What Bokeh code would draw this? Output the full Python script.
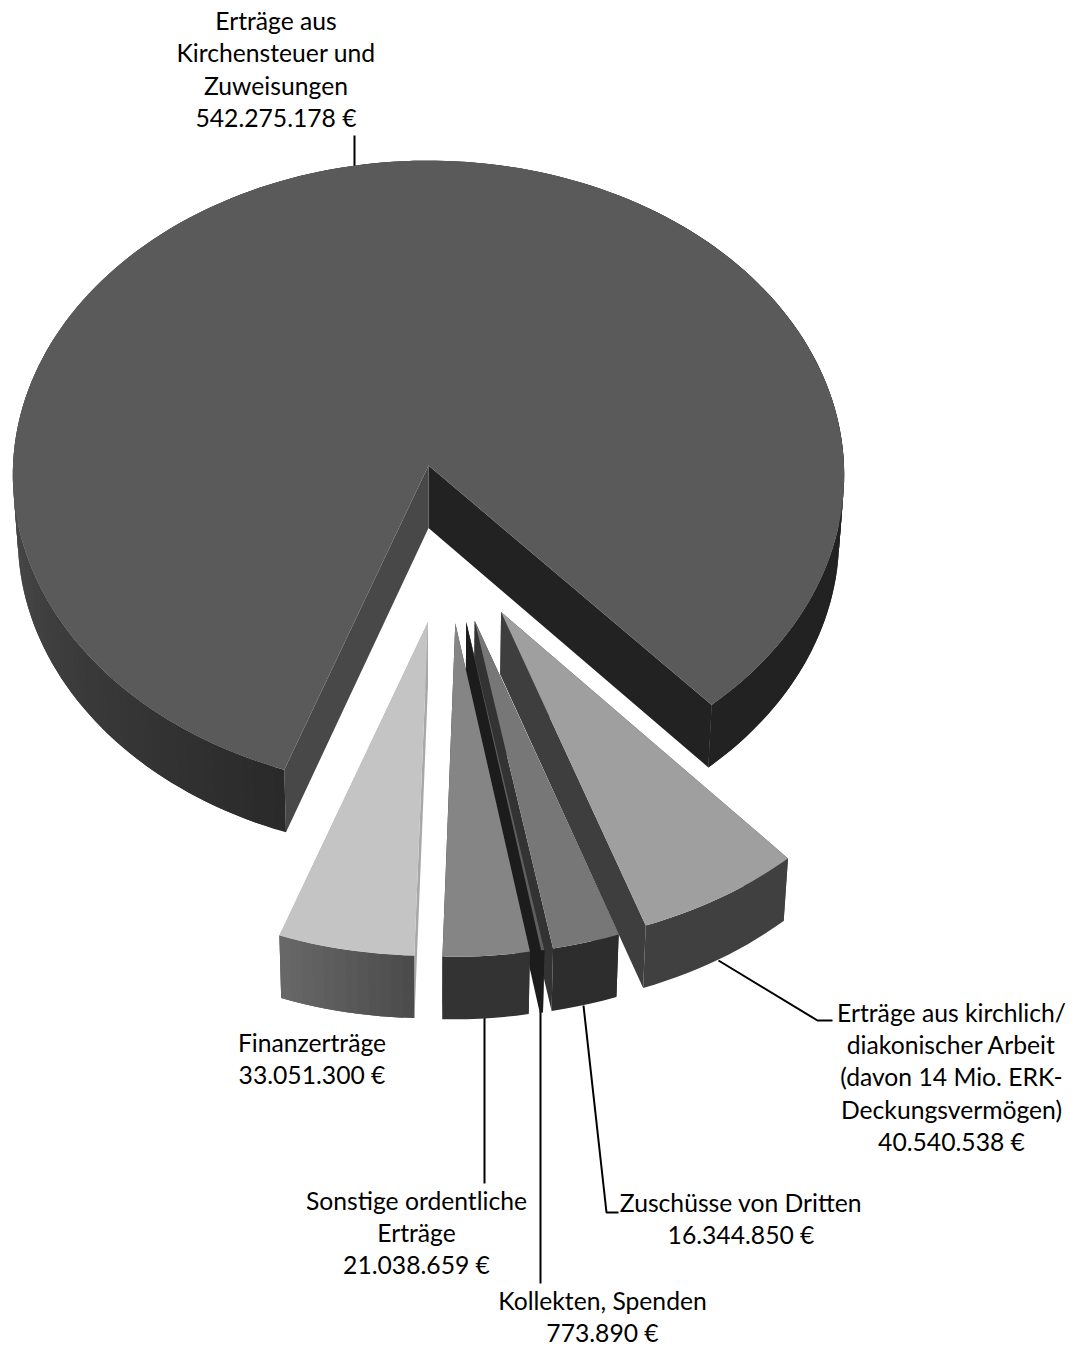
import numpy as np
from bokeh.embed import file_html
from bokeh.models import ColumnDataSource, Range1d
from bokeh.plotting import figure
from bokeh.resources import INLINE
from bokeh.core.properties import value

# Income positions, clockwise from the right-hand edge of the gap
categories = [
    ["Erträge aus kirchlich/", "diakonischer Arbeit", "(davon 14 Mio. ERK-", "Deckungsvermögen)"],
    ["Zuschüsse von Dritten"],
    ["Kollekten, Spenden"],
    ["Sonstige ordentliche", "Erträge"],
    ["Finanzerträge"],
    ["Erträge aus", "Kirchensteuer und", "Zuweisungen"],
]
amounts = [40540538, 16344850, 773890, 21038659, 33051300, 542275178]

# Grey tones per slice: top, wall at both ends, faces at the start and end cut
top_colors = ["#9f9f9f", "#777777", "#5e5e5e", "#858585", "#c4c4c4", "#5a5a5a"]
wall_start = ["#404040", "#2d2d2d", "#1c1c1c", "#333333", "#4c4c4c", "#222222"]
wall_end = ["#404040", "#2d2d2d", "#1c1c1c", "#333333", "#676767", "#222222"]
cut_start = ["#3e3e3e", "#333333", "#1c1c1c", "#333333", "#a8a8a8", "#484848"]
cut_end = ["#3e3e3e", "#333333", "#1c1c1c", "#333333", "#a8a8a8", "#222222"]

# Projection of the tilted disc onto the page
START_DEG = 48.2
EXPLODE = 0.25
CX, CY = 428.0, 465.0
RX, RY = 415.5, 314.0
PERSPECTIVE = 0.03
DEPTH = 62.5
TAPER = 0.012
SMALL_SLICE_SHIFT = -0.008
APEX_SHIFT = 0.005
PAGE_W, PAGE_H = 1077, 1348


def hex_rgb(h):
    return np.array([int(h[i:i + 2], 16) for i in (1, 3, 5)], dtype=float)


def mix(a, b, t):
    c = hex_rgb(a) * (1 - t) + hex_rgb(b) * t
    return "#%02x%02x%02x" % tuple(int(round(v)) for v in c)


def project(px, py, bottom=False):
    s = 1.0 / (1.0 - PERSPECTIVE * py)
    x = RX * px * s
    y = CY + RY * py * s
    if bottom:
        return CX + x * (1 - TAPER), y + DEPTH
    return CX + x, y


total = sum(amounts)
sweeps = [a / total * 360.0 for a in amounts]
starts = START_DEG + np.concatenate([[0], np.cumsum(sweeps)[:-1]])

# The largest slice sits at the projection origin, so the true pie centre is offset from it
big_mid = np.radians(starts[-1] + sweeps[-1] / 2)
true_cx = -EXPLODE * np.cos(big_mid)
true_cy = -EXPLODE * np.sin(big_mid)

xs, ys, fills = [], [], []


def add_poly(x, y, color):
    xs.append(list(x))
    ys.append(list(y))
    fills.append(color)


def main_wall_color(deg):
    # Wall of the big slice: dark on the right, brightening towards the far left
    deg = deg % 360
    if deg < 48.2 or deg > 300:
        return wall_start[5]
    return mix("#2a2a2a", "#4b4b4b", np.clip((deg - 110) / 70.0, 0, 1))


def add_slice(i):
    mid = np.radians(starts[i] + sweeps[i] / 2)
    is_big = i == 5
    ax = true_cx + EXPLODE * np.cos(mid) + (0.0 if is_big else SMALL_SLICE_SHIFT)
    ay = true_cy + EXPLODE * np.sin(mid)
    n = max(int(sweeps[i] / 1.5), 2)
    th = np.radians(np.linspace(starts[i], starts[i] + sweeps[i], n + 1))
    ox = ax + np.cos(th)
    oy = ay + np.sin(th)
    tx, ty = project(ox, oy)
    bx, by = project(ox, oy, bottom=True)
    tip = ax + (0.0 if is_big else APEX_SHIFT)
    atx, aty = project(tip, ay)
    abx, aby = project(tip, ay, bottom=True)

    # Cut faces first, so the wall and top cover whatever they should
    add_poly([atx, tx[-1], bx[-1], abx], [aty, ty[-1], by[-1], aby], cut_end[i])
    add_poly([atx, tx[0], bx[0], abx], [aty, ty[0], by[0], aby], cut_start[i])

    # Outer wall: one piece where it is flat, overlapping strips where it is shaded
    if not is_big and wall_start[i] == wall_end[i]:
        add_poly(np.r_[tx, bx[::-1]], np.r_[ty, by[::-1]], wall_start[i])
    else:
        for j in range(n):
            k = min(j + 2, n)
            if is_big:
                color = main_wall_color(np.degrees(th[j]))
            else:
                color = mix(wall_start[i], wall_end[i], j / max(n - 1, 1))
            add_poly(
                np.r_[tx[j:k + 1], bx[j:k + 1][::-1]],
                np.r_[ty[j:k + 1], by[j:k + 1][::-1]],
                color,
            )

    add_poly(np.r_[atx, tx], np.r_[aty, ty], top_colors[i])


for idx in [5, 0, 1, 2, 3, 4]:
    add_slice(idx)

p = figure(
    width=PAGE_W, height=PAGE_H, output_backend="svg", toolbar_location=None,
    x_range=Range1d(0, PAGE_W), y_range=Range1d(PAGE_H, 0),
    min_border=0, outline_line_color=None, background_fill_color="white",
)
p.axis.visible = False
p.grid.visible = False

# Leader lines run underneath the pie
leaders_x = [[354, 354], [718, 817, 832], [583, 606, 618], [540, 540], [484, 484]]
leaders_y = [[135, 170], [960, 1020, 1020], [1005, 1212, 1212], [1005, 1283], [1015, 1183]]
p.multi_line(leaders_x, leaders_y, line_color="#000000", line_width=2)

p.patches(
    "xs", "ys",
    source=ColumnDataSource(dict(xs=xs, ys=ys, fill=fills)),
    fill_color="fill", line_color=None,
)


def money(v):
    return f"{v:,}".replace(",", ".") + " €"


# Label block centres and first baselines, in slice order
label_cx = [951, 740.5, 602, 416, 311.5, 275.5]
label_y0 = [1011.5, 1201.5, 1299.5, 1199.5, 1041.5, 20]
PITCH = 32.4

tx_x, tx_y, tx_t = [], [], []
for i, lines in enumerate(categories):
    for k, line in enumerate(lines + [money(amounts[i])]):
        tx_x.append(label_cx[i])
        tx_y.append(label_y0[i] + k * PITCH)
        tx_t.append(line)

p.text(
    tx_x, tx_y, text=tx_t, text_align="center", text_baseline="alphabetic",
    text_font=value("Lato"), text_font_size="24.7px", text_color="#000000",
)

open("out.html", "w").write(file_html(p, INLINE))
